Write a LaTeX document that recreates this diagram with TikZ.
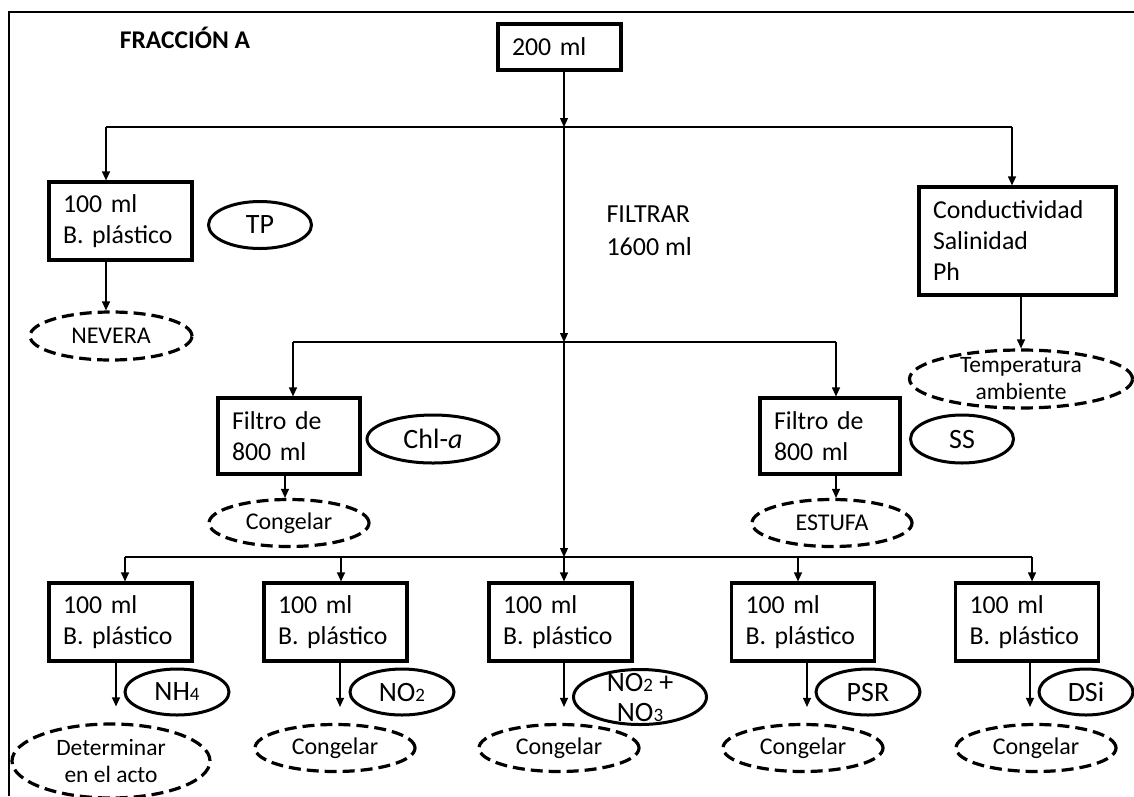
\documentclass[tikz,border=0pt]{standalone}
\usepackage{fontspec}
\setmainfont{Carlito}
\usetikzlibrary{arrows.meta,shapes.geometric}
\newcommand{\sm}[1]{{\fontsize{19}{19}\selectfont #1}}
\begin{document}
\begin{tikzpicture}[x=1pt,y=-1pt,
 conn/.style={line width=1.2pt},
 arr/.style={conn,-{Triangle[length=9pt,width=8pt]}},
 box/.style={draw,line width=3.2pt,rectangle,inner xsep=14pt,inner ysep=0pt,align=left,
   font=\fontsize{25.8}{31}\selectfont},
 bbox/.style={box,text width=115pt,minimum height=78pt},
 lab/.style={draw,line width=3pt,ellipse,inner sep=0pt,font=\fontsize{28}{30}\selectfont,
   minimum width=104pt,minimum height=46pt},
 store/.style={draw,line width=3.2pt,ellipse,dash pattern=on 12pt off 6pt,inner sep=0pt,
   font=\fontsize{24}{27}\selectfont,minimum width=160pt,minimum height=47pt},
 stxt/.style={font=\fontsize{23.5}{27}\selectfont,align=center},
 ltxt/.style={font=\fontsize{28}{30}\selectfont,align=center}]
\useasboundingbox (0,0) rectangle (1134,796);
% frame
\draw[line width=1.5pt] (9,796) -- (9,12) -- (1134,12);
\node[font=\bfseries\fontsize{25.5}{27}\selectfont] (title) at (185,38) {FRACCIÓN A};
% boxes
\node[box,text width=95pt,minimum height=46pt] (top) at (559.5,47) {200 ml};
\node[bbox] (L1) at (120.5,221) {100 ml\\B. plástico};
\node[box,text width=169pt,minimum height=108pt] (cond) at (1017.5,241) {Conductividad\\Salinidad\\Ph};
\node[box,text width=114pt,minimum height=76pt] (fl) at (289,436) {Filtro de\\800 ml};
\node[box,text width=112pt,minimum height=76pt] (fr) at (830,436) {Filtro de\\800 ml};
\node[bbox] (b1) at (120.5,622) {100 ml\\B. plástico};
\node[bbox] (b2) at (335.5,622) {100 ml\\B. plástico};
\node[bbox] (b3) at (560.5,622) {100 ml\\B. plástico};
\node[bbox] (b4) at (803,622) {100 ml\\B. plástico};
\node[bbox] (b5) at (1027,622) {100 ml\\B. plástico};
\node[anchor=west,align=left,font=\fontsize{26}{33}\selectfont] (filt) at (603,231) {FILTRAR\\1600 ml};
% label ellipses
\node[lab,minimum width=103pt,minimum height=47pt] (tp) at (260,225) {TP};
\node[lab,minimum width=132pt,minimum height=48pt] (chl) at (433,439) {Chl-\textit{a}};
\node[lab,minimum width=103pt,minimum height=48pt] (ss) at (962,439) {SS};
\node[lab] (nh4) at (177,692) {NH\sm{4}};
\node[lab] (no2) at (402,692) {NO\sm{2}};
\node[lab,minimum width=133pt,minimum height=55pt,
  label={[ltxt]center:NO\sm{2} +\\NO\sm{3}}] (no23) at (640,697) {};
\node[lab] (psr) at (868,692) {PSR};
\node[lab,minimum width=94pt] (dsi) at (1086,692) {DSi};
% storage ellipses
\node[store,minimum width=162pt,minimum height=48pt] (nev) at (111,336) {NEVERA};
\node[store,minimum width=223pt,minimum height=58pt,
  label={[stxt]center:Temperatura\\ambiente}] (temp) at (1021,379) {};
\node[store] (cl) at (289,523) {Congelar};
\node[store] (est) at (832,523) {ESTUFA};
\node[store,minimum width=198pt,minimum height=74pt,
  label={[stxt]center:Determinar\\en el acto}] (s1) at (111,761) {};
\node[store] (s2) at (335,748) {Congelar};
\node[store] (s3) at (559,748) {Congelar};
\node[store] (s4) at (803,748) {Congelar};
\node[store] (s5) at (1036,748) {Congelar};
% junctions
\coordinate (j1) at (564,127);
\coordinate (j1l) at (106,127);
\coordinate (j1r) at (1012,127);
\coordinate (j2) at (564,342);
\coordinate (j2l) at (293,342);
\coordinate (j2r) at (836,342);
\coordinate (j3) at (564,557);
\coordinate (j3l) at (125,557);
\coordinate (j3r) at (1032,557);
% connectors
\draw[arr] (top.south -| j1) -- (j1);
\draw[conn] (j1l) -- (j1r);
\draw[arr] (j1l) -- (j1l |- L1.north);
\draw[arr] (j1r) -- (j1r |- cond.north);
\draw[arr] (L1.south -| j1l) -- (j1l |- nev.north);
\draw[arr] (cond.south -| temp.north) -- (temp.north);
\draw[arr] (j1) -- (j2);
\draw[conn] (j2l) -- (j2r);
\draw[arr] (j2l) -- (j2l |- fl.north);
\draw[arr] (j2r) -- (j2r |- fr.north);
\draw[arr] ([xshift=-4pt]fl.south) -- ([xshift=-4pt]fl.south |- cl.north);
\draw[arr] ([xshift=6pt]fr.south) -- ([xshift=6pt]fr.south |- est.north);
\draw[arr] (j2) -- (j3);
\draw[conn] (j3l) -- (j3r);
\foreach \x/\b in {125/b1,341/b2,564/b3,798/b4,1032/b5}
  \draw[arr] (\x,557) -- (\x,557 |- \b.north);
\foreach \x/\b/\s in {116/b1/s1,340/b2/s2,564/b3/s3,807/b4/s4,1030/b5/s5}
  \draw[arr,shorten >=16pt] (\b.south -| \x,0) -- (\x,0 |- \s.north);
\end{tikzpicture}
\end{document}
